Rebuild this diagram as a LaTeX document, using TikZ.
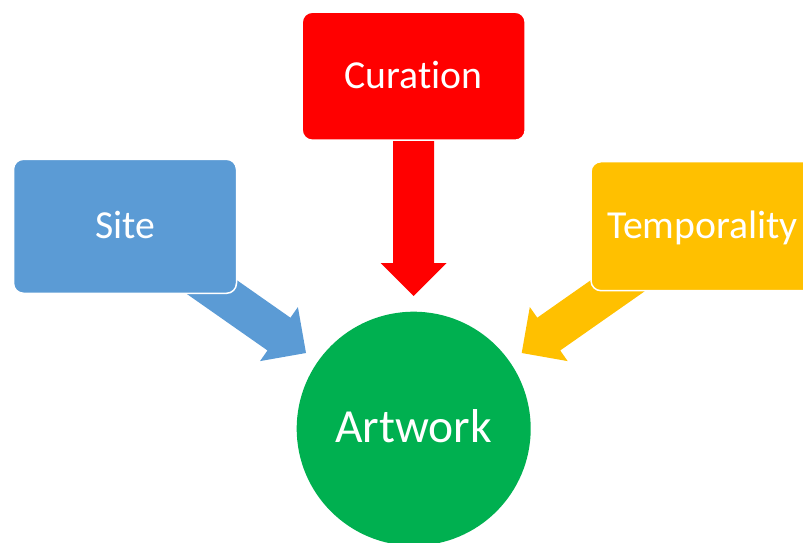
\documentclass[tikz,border=0pt]{standalone}
\usepackage{fontspec}
\setmainfont[Ligatures=NoCommon,RawFeature=-liga]{Carlito}
\definecolor{siteblue}{HTML}{5B9BD5}
\definecolor{curred}{HTML}{FF0000}
\definecolor{temporange}{HTML}{FFC000}
\definecolor{artgreen}{HTML}{00B050}
\tikzset{
  box/.style={rectangle, rounded corners=10pt, draw=white, line width=1.5pt,
    minimum width=223pt, minimum height=129pt, inner sep=0pt, text=white,
    text height=24pt, text depth=0pt,
    font=\fontsize{39.7}{47}\selectfont},
}
\begin{document}
\begin{tikzpicture}[x=1pt,y=1pt]
\useasboundingbox (0,0) rectangle (803,-543);
\clip (0,0) rectangle (803,-543);
% block arrows (drawn first, boxes cover their tails)
\begin{scope}[shift={(413.7,-296)},rotate=-90]
  \fill[curred] (0,0) -- (-33,33) -- (-33,20.5) -- (-156,20.5) -- (-156,-20.5) -- (-33,-20.5) -- (-33,-33) -- cycle;
\end{scope}
\begin{scope}[shift={(306,-353)},rotate=-35]
  \fill[siteblue] (0,0) -- (-33,33) -- (-33,20) -- (-136,20) -- (-136,-20) -- (-33,-20) -- (-33,-33) -- cycle;
\end{scope}
\begin{scope}[shift={(521.7,-353)},rotate=215]
  \fill[temporange] (0,0) -- (-33,33) -- (-33,20) -- (-136,20) -- (-136,-20) -- (-33,-20) -- (-33,-33) -- cycle;
\end{scope}
% boxes
\node[box, fill=curred, minimum height=128pt] (curation) at (413.7,-76.2) {Curation};
\node[box, fill=siteblue, minimum height=134pt] (site) at (125,-226.3) {Site};
\node[box, fill=temporange] (temporality) at (702.5,-226.2) {Temporality};
% circle
\node[circle, fill=artgreen, minimum size=234pt, inner sep=0pt, text=white,
  text height=27pt, text depth=0pt,
  font=\fontsize{47.5}{56}\selectfont] (artwork) at (413.7,-428.7) {Artwork};
\end{tikzpicture}
\end{document}
